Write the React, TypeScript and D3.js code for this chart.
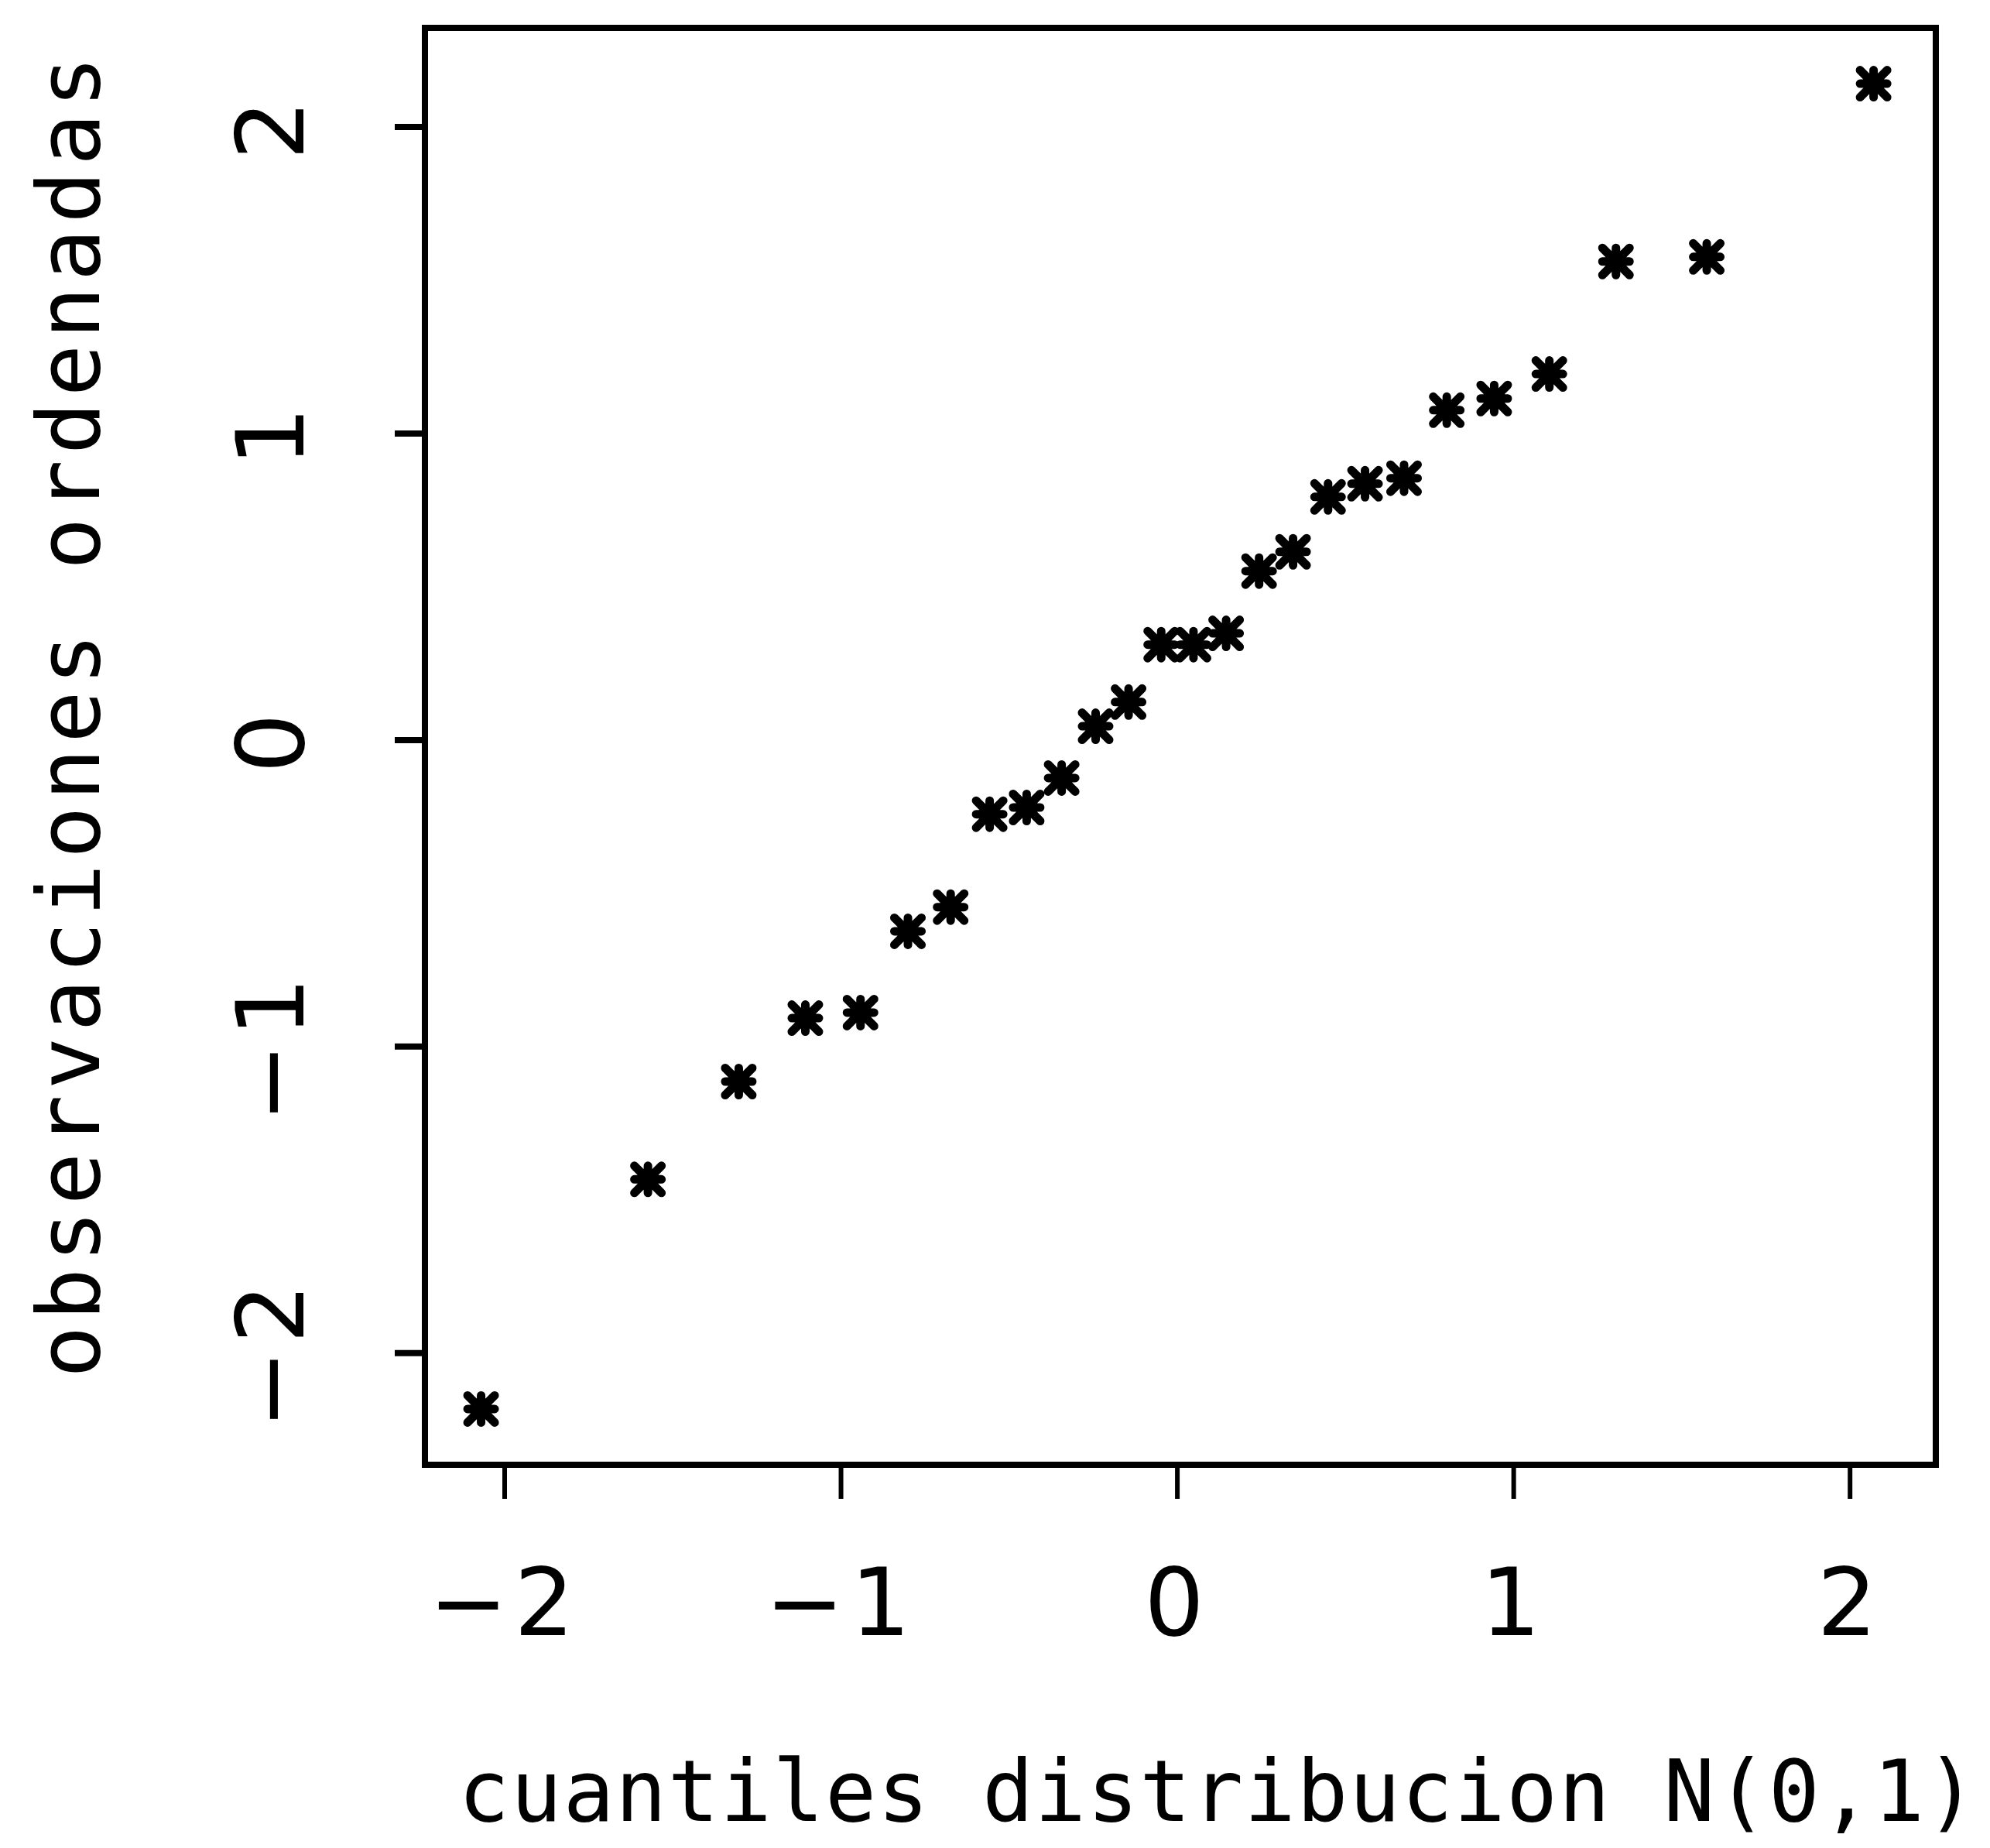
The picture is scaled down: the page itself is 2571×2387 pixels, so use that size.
import React, { useEffect, useRef } from "react";
import * as d3 from "d3";

// Theoretical N(0,1) quantiles (x) for the 26 ordered observations
const quantiles = [
  -2.07, -1.574, -1.304, -1.106, -0.942, -0.801, -0.674, -0.558, -0.448,
  -0.344, -0.243, -0.145, -0.048, 0.048, 0.145, 0.243, 0.344, 0.448, 0.558,
  0.674, 0.801, 0.942, 1.106, 1.304, 1.574, 2.07,
];

const observations = [
  -2.182, -1.433, -1.114, -0.907, -0.889, -0.624, -0.545, -0.242, -0.22,
  -0.124, 0.045, 0.124, 0.311, 0.311, 0.348, 0.551, 0.614, 0.793, 0.836,
  0.854, 1.076, 1.114, 1.194, 1.561, 1.576, 2.141,
];

const xTicks = [-2, -1, 0, 1, 2];
const yTicks = [-2, -1, 0, 1, 2];
const xDomain = [-2.237, 2.255];
const yDomain = [-2.364, 2.323];

const xLabel = "cuantiles distribucion N(0,1)";
const yLabel = "observaciones ordenadas";

const width = 2571;
const height = 2387;
const font = "'DejaVu Sans Mono', monospace";
const tickFont = "'DejaVu Sans', sans-serif";

function QQPlot() {
  const ref = useRef<SVGSVGElement | null>(null);

  useEffect(() => {
    const svg = d3.select(ref.current);
    svg.selectAll("*").remove();

    // Plot region
    const box = { left: 549, right: 2501, top: 36, bottom: 1892 };

    const x = d3.scaleLinear().domain(xDomain).range([box.left, box.right]);
    const y = d3.scaleLinear().domain(yDomain).range([box.bottom, box.top]);

    const fmt = (d: number) => (d < 0 ? "\u2212" + Math.abs(d) : String(d));

    // Frame
    svg
      .append("rect")
      .attr("x", box.left)
      .attr("y", box.top)
      .attr("width", box.right - box.left)
      .attr("height", box.bottom - box.top)
      .attr("fill", "none")
      .attr("stroke", "#000")
      .attr("stroke-width", 8);

    // x ticks
    const xAxis = svg.append("g");
    xAxis
      .selectAll("line")
      .data(xTicks)
      .enter()
      .append("line")
      .attr("x1", (d) => x(d))
      .attr("x2", (d) => x(d))
      .attr("y1", box.bottom)
      .attr("y2", box.bottom + 44)
      .attr("stroke", "#000")
      .attr("stroke-width", 6);
    xAxis
      .selectAll("text")
      .data(xTicks)
      .enter()
      .append("text")
      .attr("x", (d) => x(d))
      .attr("y", 2112)
      .attr("text-anchor", "middle")
      .attr("font-family", tickFont)
      .attr("font-size", 122)
      .attr("letter-spacing", 8)
      .text(fmt);

    // y ticks
    const yAxis = svg.append("g");
    yAxis
      .selectAll("line")
      .data(yTicks)
      .enter()
      .append("line")
      .attr("x1", box.left - 39)
      .attr("x2", box.left)
      .attr("y1", (d) => y(d))
      .attr("y2", (d) => y(d))
      .attr("stroke", "#000")
      .attr("stroke-width", 8);
    yAxis
      .selectAll("text")
      .data(yTicks)
      .enter()
      .append("text")
      .attr("transform", (d) => `translate(392, ${y(d)}) rotate(-90)`)
      .attr("text-anchor", "middle")
      .attr("font-family", tickFont)
      .attr("font-size", 122)
      .attr("letter-spacing", 8)
      .text(fmt);

    // Axis titles
    svg
      .append("text")
      .attr("x", 592)
      .attr("y", 2352)
      .attr("font-family", font)
      .attr("font-size", 110)
      .attr("textLength", 1962)
      .attr("lengthAdjust", "spacing")
      .text(xLabel);

    svg
      .append("text")
      .attr("transform", "translate(128, 1780) rotate(-90)")
      .attr("font-family", font)
      .attr("font-size", 112)
      .attr("textLength", 1708)
      .attr("lengthAdjust", "spacing")
      .text(yLabel);

    // Asterisk markers (8 arms with a solid core)
    const r = 17.5;
    const star = `M${-r},0L${r},0M0,${-r}L0,${r}M${-r},${-r}L${r},${r}M${-r},${r}L${r},${-r}`;
    const data = quantiles.map((q, i) => ({ q, v: observations[i] }));

    const points = svg
      .append("g")
      .selectAll("g")
      .data(data)
      .enter()
      .append("g")
      .attr("transform", (d) => `translate(${x(d.q)}, ${y(d.v)})`);

    points
      .append("path")
      .attr("d", star)
      .attr("fill", "none")
      .attr("stroke", "#000")
      .attr("stroke-width", 11)
      .attr("stroke-linecap", "round");

    points.append("circle").attr("r", 13).attr("fill", "#000");
  }, []);

  return (
    <svg
      ref={ref}
      width={width}
      height={height}
      style={{ position: "absolute", left: 0, top: 0, background: "#fff" }}
    />
  );
}

export default function App() {
  return <QQPlot />;
}
